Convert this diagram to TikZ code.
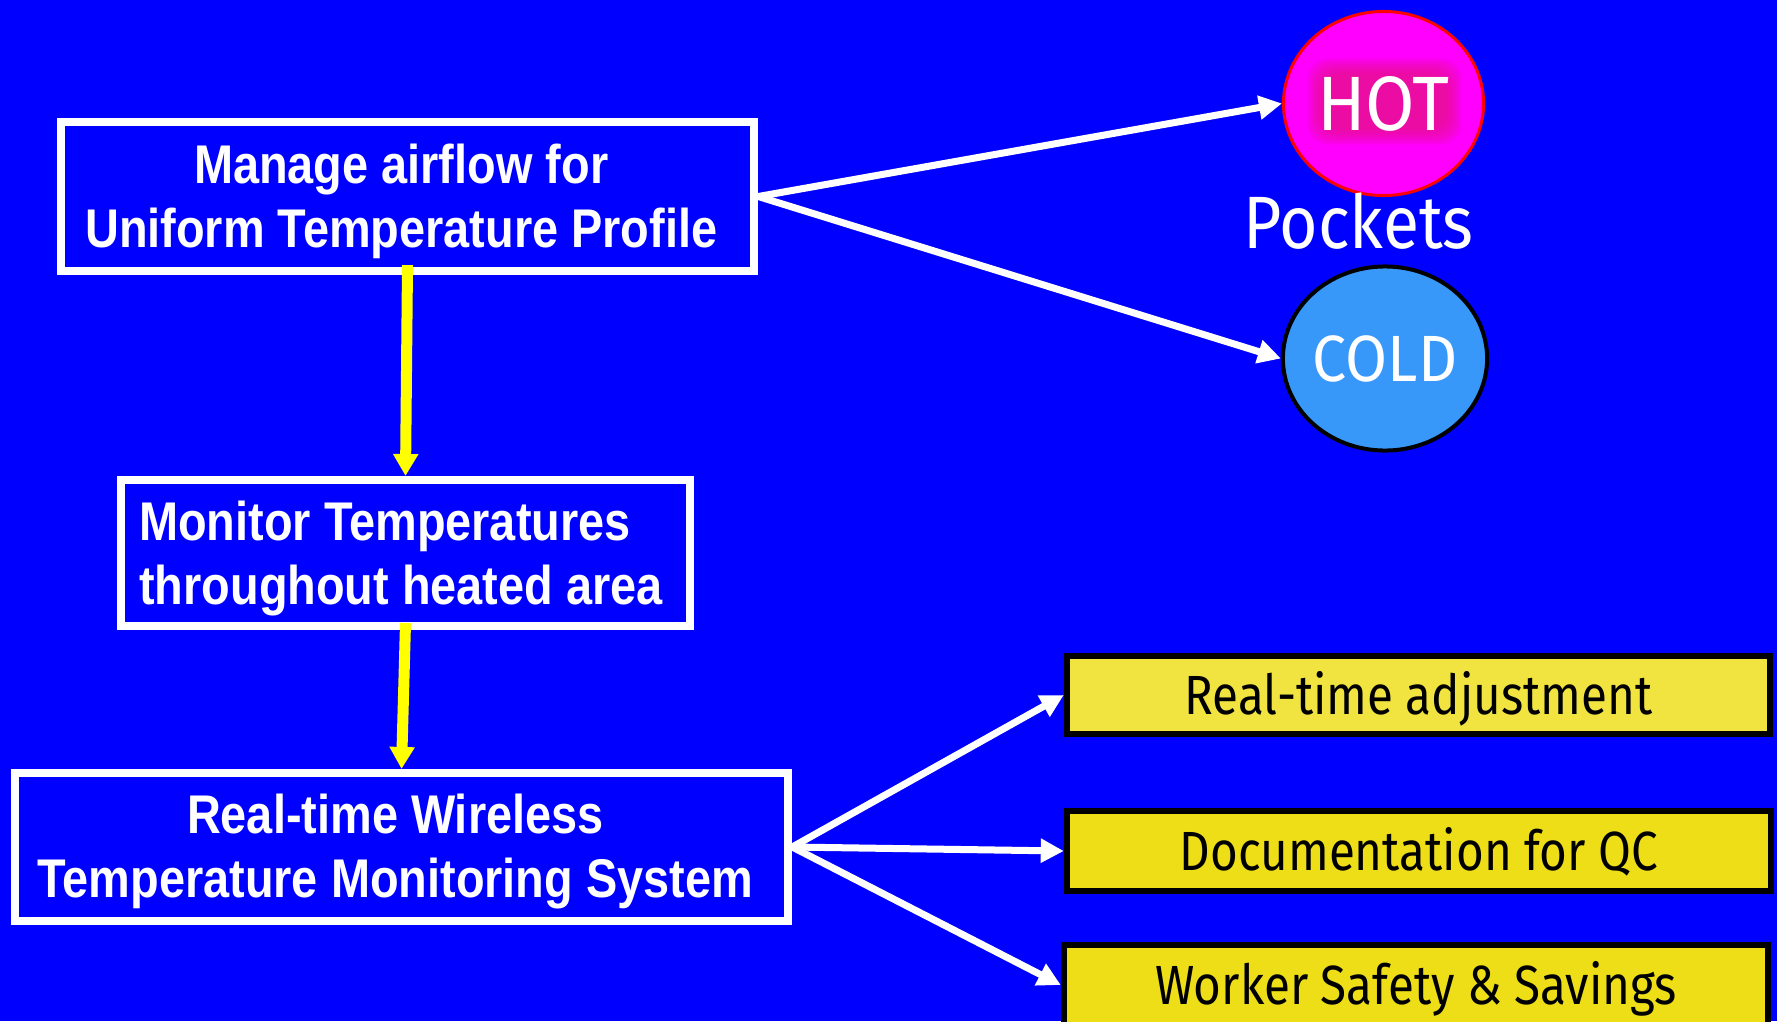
\documentclass[tikz,border=0pt]{standalone}
\usepackage{fontspec}
\setmainfont{Liberation Sans}
\newfontfamily\headfont[FakeStretch=0.86]{Liberation Sans}
\newfontfamily\plainfont[FakeStretch=0.862]{Fira Sans}
\newfontfamily\ballfont[FakeStretch=0.93]{Fira Sans}
\newfontfamily\captionfont[FakeStretch=0.89]{Fira Sans}
\usetikzlibrary{arrows.meta,shapes.geometric}
\definecolor{bg}{RGB}{0,0,255}
\definecolor{hotfill}{RGB}{255,0,255}
\definecolor{hotglow}{RGB}{230,20,130}
\definecolor{coldfill}{RGB}{55,152,250}
\definecolor{tagA}{RGB}{242,228,64}
\definecolor{tagB}{RGB}{238,222,24}
\definecolor{flow}{RGB}{255,255,0}
\begin{document}
\begin{tikzpicture}[x=0.01cm,y=-0.01cm,
  stepbox/.style={draw=white, line width=0.08cm, inner sep=0pt},
  steptext/.style={inner sep=0pt, text=white, align=center,
    font=\headfont\bfseries\fontsize{15.5}{18.1}\selectfont},
  tagbox/.style={draw=black, line width=0.06cm, inner sep=0pt, text=black,
    text height=0.38cm, text depth=0pt,
    font=\plainfont\fontsize{15.7}{18}\selectfont},
  flowarrow/.style={draw=flow, line width=0.11cm, -{Triangle[length=0.22cm,width=0.24cm]}},
  pointer/.style={draw=white, line width=0.07cm, -{Triangle[length=0.23cm,width=0.23cm]}},
  pocket/.style={ellipse, inner sep=0pt, text=white, minimum width=2.00cm, minimum height=1.84cm}]
\fill[bg] (0,0) rectangle (1777,1021);
\useasboundingbox (0,0) rectangle (1777,1021);
\clip (0,0) rectangle (1777,1021);

% process chain on the left: frames and their captions
\node[stepbox, minimum width=6.93cm, minimum height=1.49cm] (manage) at (407.5,196.5) {};
\node[steptext] (manage-text) at (401.2,201.5)
  {Manage airflow for\\Uniform Temperature Profile};
\node[stepbox, minimum width=5.69cm, minimum height=1.46cm] (monitor) at (405.5,553) {};
\node[steptext, align=left] (monitor-text) at (401,558.5)
  {Monitor Temperatures\\throughout heated area};
\node[stepbox, minimum width=7.73cm, minimum height=1.48cm] (system) at (401.5,847) {};
\node[steptext] (system-text) at (395.3,851.5)
  {Real-time Wireless\\Temperature Monitoring System};

% hot and cold pockets
\node[pocket, draw=red, line width=0.03cm, fill=hotfill,
  font=\ballfont\fontsize{21.9}{24}\selectfont,
  path picture={
    \foreach \m in {0,...,8}{
      \fill[hotglow, opacity=0.13, rounded corners=0.2cm]
        ([xshift=-0.60cm-\m*0.02cm, yshift=-0.25cm-\m*0.02cm]path picture bounding box.center)
        rectangle
        ([xshift=0.62cm+\m*0.02cm, yshift=0.29cm+\m*0.02cm]path picture bounding box.center);
    }}] (hot) at (1383.5,103.5) {HOT};
\node[pocket, draw=black, line width=0.04cm, fill=coldfill,
  font=\ballfont\fontsize{18.6}{22}\selectfont] (cold) at (1385,358.5) {COLD};
\node[anchor=base, text=white, font=\captionfont\fontsize{21.1}{24}\selectfont] (pockets) at (1358.5,248) {Pockets};

% outcomes
\node[tagbox, fill=tagA, minimum width=7.03cm, minimum height=0.78cm] (adjust) at (1418.5,695) {Real-time adjustment};
\node[tagbox, fill=tagB, minimum width=7.04cm, minimum height=0.80cm] (qc) at (1419,851) {Documentation for QC};
\node[tagbox, fill=tagB, minimum width=7.04cm, minimum height=0.80cm] (safety) at (1416,985) {Worker Safety \& Savings};

% connectors
\draw[flowarrow] ([yshift=0.1cm]manage.south) -- (monitor.north);
\draw[flowarrow] ([yshift=0.07cm]monitor.south) -- (system.north);
\draw[pointer] (manage.east) -- (hot.west);
\draw[pointer] (manage.east) -- (cold.west);
\draw[pointer] (system.east) -- (adjust.west);
\draw[pointer] (system.east) -- (qc.west);
\draw[pointer] (system.east) -- (safety.west);
\end{tikzpicture}
\end{document}
